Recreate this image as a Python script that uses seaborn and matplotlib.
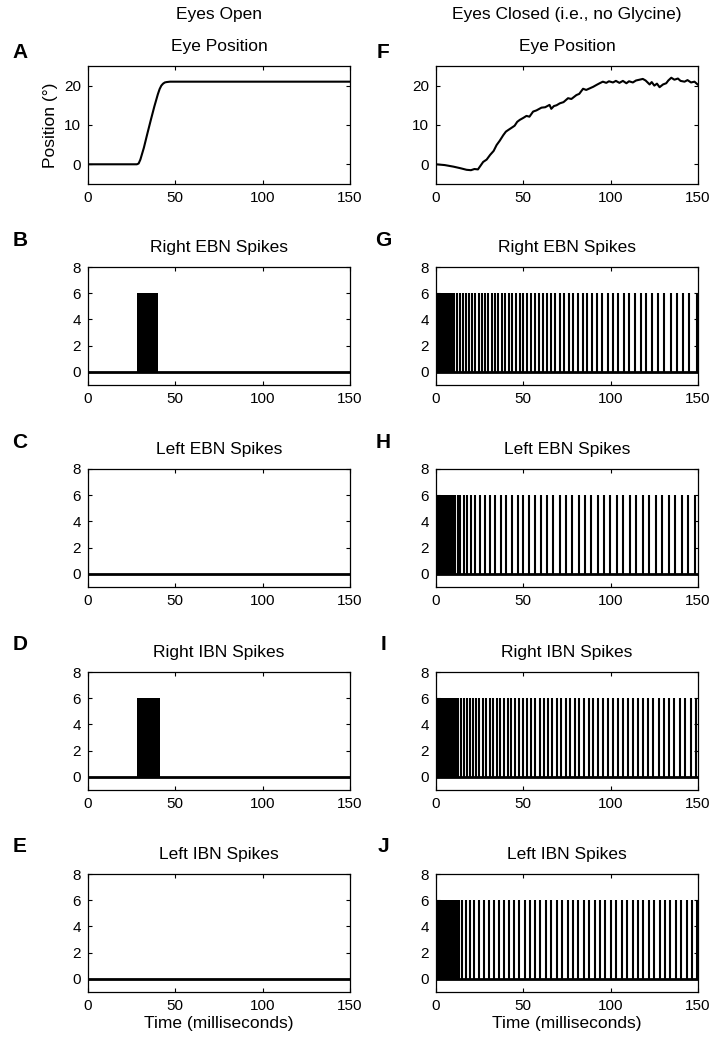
import numpy as np
import pandas as pd
import matplotlib
matplotlib.use("Agg")
import matplotlib.pyplot as plt
import seaborn as sns

# Eye position traces (ms, degrees)
open_t = [0, 10, 20, 28, 29, 30, 32, 34, 36, 38, 40, 41, 42, 43, 44, 45, 47, 60, 100, 150]
open_pos = [0, 0, 0, 0, 0.2, 1.2, 4.2, 7.8, 11.3, 14.7, 17.8, 19.1, 20.0, 20.5, 20.8, 20.9, 21, 21, 21, 21]

closed_t = [0, 5, 10, 14, 17.5, 20, 22, 24, 27, 29, 31, 33, 34.7, 36.5, 38.5, 40, 41.3, 43, 45,
            46.5, 48, 50, 51.8, 53.5, 55.6, 57.5, 60.4, 62.5, 65, 66, 67.5, 69, 70.9, 73, 75.6,
            77.5, 80.4, 82, 84.2, 86, 88, 90, 92, 93.7, 95.5, 97.5, 99, 101.3, 103, 105, 107,
            109, 110.5, 112.7, 114.5, 116.5, 118.4, 120, 122.3, 123.5, 125, 126.5, 128, 130,
            131.8, 133, 134.7, 136.5, 138.5, 140, 142.3, 144, 146, 148, 150]
closed_pos = [0, -0.2, -0.6, -1.0, -1.4, -1.5, -1.2, -1.3, 0.6, 1.2, 2.4, 3.4, 4.9, 6.0, 7.4, 8.3, 8.7,
              9.2, 9.8, 10.8, 11.3, 11.8, 12.3, 12.1, 13.4, 13.7, 14.4, 14.5, 15.1, 14.1, 14.8, 15.0,
              15.5, 15.8, 16.8, 16.6, 17.6, 17.9, 19.2, 18.9, 19.3, 19.7, 20.2, 20.6, 21.0, 20.7, 21.1,
              20.8, 21.2, 20.7, 21.2, 20.6, 21.1, 20.8, 21.3, 21.5, 21.7, 21.3, 20.3, 20.9, 20.0, 20.5,
              19.6, 20.3, 20.6, 21.3, 22.0, 21.5, 21.8, 21.2, 21.0, 21.4, 20.8, 21.0, 20.2]

# Spike trains: burst intervals (solid black) and single spike times (ms)
burst_B = [(28, 40)]
spikes_B = []
burst_C = []
spikes_C = [0.1]
burst_D = [(28, 41)]
spikes_D = []
burst_E = []
spikes_E = []

burst_G = [(0, 10)]
spikes_G = [10.5, 12.2, 13.9, 15.6, 17.3, 19.0, 20.8, 22.6, 24.4, 26.2, 28.0, 29.9, 31.8, 33.7,
            35.6, 37.6, 39.6, 41.6, 43.7, 45.8, 47.9, 50.0, 52.2, 54.4, 56.6, 58.9, 61.2, 63.5,
            65.9, 68.3, 70.8, 73.3, 75.9, 78.5, 81.2, 83.9, 86.7, 89.5, 92.4, 95.3, 98.3, 101.3,
            104.4, 107.5, 110.7, 113.9, 117.2, 120.5, 123.9, 127.3, 130.8, 134.3, 137.9, 141.5,
            145.1, 149.6]
burst_H = [(0, 9)]
spikes_H = [9.8, 11.0, 12.4, 14.0, 15.8, 17.8, 20.0, 22.4, 25.0, 27.8, 30.8, 33.9, 37.0, 40.2,
            43.4, 46.7, 50.0, 53.4, 56.8, 60.2, 63.7, 67.2, 70.8, 74.4, 78.0, 81.6, 85.2, 88.8,
            92.5, 96.2, 99.9, 103.6, 107.3, 111.0, 114.7, 118.4, 122.1, 125.8, 129.5, 133.2,
            136.9, 140.6, 144.3, 148.0]
burst_I = [(0, 12)]
spikes_I = [12.5, 14.2, 15.9, 17.6, 19.4, 21.2, 23.0, 24.9, 26.8, 28.7, 30.7, 32.7, 34.7, 36.8,
            38.9, 41.0, 43.2, 45.4, 47.6, 49.9, 52.2, 54.5, 56.9, 59.3, 61.7, 64.1, 66.6, 69.1,
            71.6, 74.2, 76.8, 79.4, 82.0, 84.7, 87.4, 90.1, 92.8, 95.6, 98.4, 101.2, 104.0, 106.9,
            109.8, 112.7, 115.6, 118.5, 121.5, 124.5, 127.5, 130.5, 133.5, 136.5, 139.6, 142.7,
            145.8, 148.9]
burst_J = [(0, 12.5)]
spikes_J = [13.3, 15.0, 17.0, 19.3, 21.8, 24.5, 27.3, 30.1, 33.0, 35.9, 38.8, 41.8, 44.8, 47.8,
            50.8, 53.8, 56.8, 59.8, 62.9, 66.0, 69.1, 72.2, 75.3, 78.4, 81.5, 84.6, 87.7, 90.8,
            93.9, 97.0, 100.1, 103.2, 106.3, 109.4, 112.5, 115.6, 118.7, 121.8, 124.9, 128.0,
            131.1, 134.2, 137.3, 140.4, 143.5, 146.6, 149.7]

spike_height = 6

sns.set_theme(style="ticks")
plt.rcParams['font.family'] = ['Liberation Sans', 'DejaVu Sans']
plt.rcParams['text.color'] = 'black'
plt.rcParams['axes.labelcolor'] = 'black'
plt.rcParams['axes.titlecolor'] = 'black'
plt.rcParams['xtick.color'] = 'black'
plt.rcParams['ytick.color'] = 'black'
plt.rcParams['xtick.direction'] = 'in'
plt.rcParams['ytick.direction'] = 'in'
plt.rcParams['xtick.top'] = True
plt.rcParams['ytick.right'] = True
plt.rcParams['axes.linewidth'] = 0.9
plt.rcParams['xtick.major.size'] = 3
plt.rcParams['ytick.major.size'] = 3

fig = plt.figure(figsize=(7.17, 10.5), dpi=100)

lefts = [0.1227, 0.6081]
bottoms = [0.8248, 0.6333, 0.4410, 0.2476, 0.0552]
w, h = 0.3654, 0.1124

titles_left = ["Eye Position", "Right EBN Spikes", "Left EBN Spikes", "Right IBN Spikes", "Left IBN Spikes"]
letters = [["A", "B", "C", "D", "E"], ["F", "G", "H", "I", "J"]]
spike_data = [
    [(burst_B, spikes_B), (burst_C, spikes_C), (burst_D, spikes_D), (burst_E, spikes_E)],
    [(burst_G, spikes_G), (burst_H, spikes_H), (burst_I, spikes_I), (burst_J, spikes_J)],
]
eye_data = [(open_t, open_pos), (closed_t, closed_pos)]

for c in range(2):
    for r in range(5):
        ax = fig.add_axes([lefts[c], bottoms[r], w, h])
        ax.tick_params(labelsize=11, width=0.8, colors='black', pad=5)
        ax.set_xlim(0, 150)
        ax.set_xticks([0, 50, 100, 150])
        if r == 0:
            t, p = eye_data[c]
            df = pd.DataFrame({"t": t, "pos": p})
            sns.lineplot(data=df, x="t", y="pos", ax=ax, color="black", linewidth=1.5)
            ax.set_ylim(-5, 25)
            ax.set_yticks([0, 10, 20])
        else:
            bursts, spikes = spike_data[c][r - 1]
            for (s, e) in bursts:
                ax.fill_between([s, e], 0, spike_height, color="black", linewidth=0)
            if spikes:
                ax.vlines(spikes, 0, spike_height, color="black", linewidth=1.5)
            base = pd.DataFrame({"t": [0, 150], "v": [0, 0]})
            sns.lineplot(data=base, x="t", y="v", ax=ax, color="black", linewidth=2)
            ax.set_ylim(-1, 8)
            ax.set_yticks([0, 2, 4, 6, 8])
        ax.set_xlabel("")
        ax.set_ylabel("")
        ax.set_title(titles_left[r], fontsize=12.5, pad=11, color="black")
        if r == 0 and c == 0:
            ax.set_ylabel("Position (°)", fontsize=12.5, labelpad=4)
        if r == 4:
            ax.set_xlabel("Time (milliseconds)", fontsize=12.5, labelpad=2)
        for sp in ax.spines.values():
            sp.set_visible(True)
            sp.set_color("black")

# panel letters
letter_x = [20 / 717, 383 / 717]
letter_y = [52, 240, 443, 645, 847]
for c in range(2):
    for r in range(5):
        fig.text(letter_x[c], 1 - letter_y[r] / 1050, letters[c][r], fontsize=15,
                 fontweight="bold", ha="center", va="center", color="black")

fig.text(219 / 717, 1 - 15 / 1050, "Eyes Open", fontsize=12.5, ha="center", va="center")
fig.text(567 / 717, 1 - 15 / 1050, "Eyes Closed (i.e., no Glycine)", fontsize=12.5,
         ha="center", va="center")

fig.savefig("out.png", dpi=100)
